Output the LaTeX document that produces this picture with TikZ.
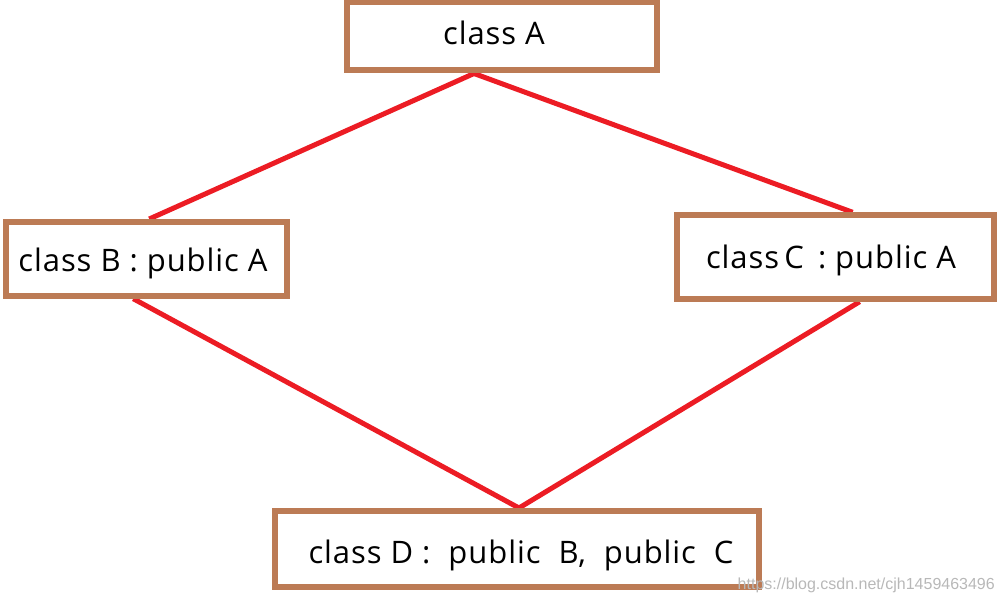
\documentclass[tikz,border=0pt]{standalone}
\usepackage{fontspec}
\usetikzlibrary{backgrounds}
\setmainfont[LetterSpace=3]{Open Sans}
\newfontfamily\wmfont{Liberation Sans}
\definecolor{boxbrown}{HTML}{BC7B55}
\definecolor{linkred}{HTML}{EC1C24}
\begin{document}
\begin{tikzpicture}[x=1pt,y=-1pt,
  box/.style={draw=boxbrown, line width=6pt, fill=white, inner sep=0pt},
  lbl/.style={anchor=base, inner sep=0pt, font=\fontsize{31}{36}\selectfont},
  link/.style={draw=linkred, line width=5pt}]
\useasboundingbox (0,0) rectangle (1001,604);
% boxes
\node[box, minimum width=310pt, minimum height=68.5pt] (A) at (502,36.25) {};
\node[box, minimum width=280.5pt, minimum height=73.7pt] (B) at (146.25,258.85) {};
\node[box, minimum width=317.3pt, minimum height=83.4pt] (C) at (835.65,257) {};
\node[box, minimum width=484pt, minimum height=76pt] (D) at (517,549) {};
% connectors
\begin{scope}[on background layer]
\draw[link] ([xshift=-28pt]A.south) -- ([xshift=3pt]B.north);
\draw[link] ([xshift=-28pt]A.south) -- ([xshift=17pt]C.north);
\draw[link] ([xshift=-13pt]B.south) -- ([xshift=2pt]D.north);
\draw[link] ([xshift=24pt]C.south) -- ([xshift=2pt]D.north);
\end{scope}
% labels
\node[lbl] (tA) at (494,45) {class A};
\node[lbl] (tB) at (143,271.5) {class B : public A};
\node[lbl] (tC) at (831,268) {class\,C\, : public A};
\node[lbl] (tD) at (521,563) {class D :\ \ public\ \ B,\ \ public\ \ C};
\node[anchor=base east, inner sep=0pt, text=black!28, font=\wmfont\fontsize{16}{18}\selectfont] (wm) at (995,589) {https://blog.csdn.net/cjh1459463496};
\end{tikzpicture}
\end{document}
